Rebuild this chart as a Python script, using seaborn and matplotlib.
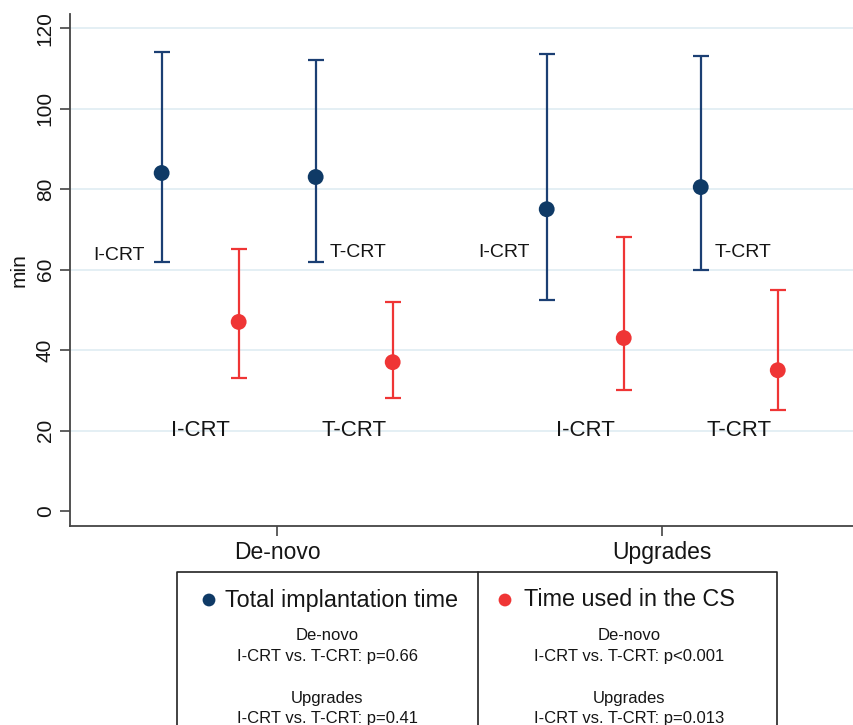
import numpy as np
import pandas as pd
import matplotlib
matplotlib.use("Agg")
import matplotlib.pyplot as plt
import seaborn as sns

# ---------------- data ----------------
groups = ["De-novo", "Upgrades"]
devices = ["I-CRT", "T-CRT", "I-CRT", "T-CRT"]
group_of = ["De-novo", "De-novo", "Upgrades", "Upgrades"]

total_mean = [84, 83, 75, 80.5]
total_lo = [62, 62, 52.5, 60]
total_hi = [114, 112, 113.5, 113]

cs_mean = [47, 37, 43, 35]
cs_lo = [33, 28, 30, 25]
cs_hi = [65, 52, 68, 55]

series_names = ["Total implantation time", "Time used in the CS"]
pvals_total = ["p=0.66", "p=0.41"]
pvals_cs = ["p<0.001", "p=0.013"]

yticks = [0, 20, 40, 60, 80, 100, 120]

BLUE = "#1b3f73"
BLUE_PT = "#0f3a66"
RED = "#ef3535"
TXT = "#151515"

# ---------------- layout helpers ----------------
group_center = {"De-novo": 0.0, "Upgrades": 5.0}
dev_off = {("I-CRT", 0): -1.5, ("I-CRT", 1): -0.5, ("T-CRT", 0): 0.5, ("T-CRT", 1): 1.5}

rows = []
for i in range(4):
    g, d = group_of[i], devices[i]
    rows.append(dict(group=g, device=d, series=series_names[0],
                     x=group_center[g] + dev_off[(d, 0)],
                     mean=total_mean[i], lo=total_lo[i], hi=total_hi[i]))
    rows.append(dict(group=g, device=d, series=series_names[1],
                     x=group_center[g] + dev_off[(d, 1)],
                     mean=cs_mean[i], lo=cs_lo[i], hi=cs_hi[i]))
df = pd.DataFrame(rows)

sns.set_theme(style="white")
plt.rcParams["font.family"] = ["Liberation Sans", "DejaVu Sans"]

fig = plt.figure(figsize=(8.54, 7.25), dpi=100)
ax = fig.add_axes([70 / 854, 1 - 526 / 725, 1 - 70 / 854, (526 - 14) / 725])

pal = {series_names[0]: BLUE_PT, series_names[1]: RED}
line_col = {series_names[0]: BLUE, series_names[1]: RED}

for s in series_names:
    sub = df[df.series == s]
    ax.errorbar(sub["x"], sub["mean"],
                yerr=[sub["mean"] - sub["lo"], sub["hi"] - sub["mean"]],
                fmt="none", ecolor=line_col[s], elinewidth=1.6,
                capsize=6, capthick=1.6, zorder=3)

sns.scatterplot(data=df, x="x", y="mean", hue="series", palette=pal,
                s=130, edgecolor="none", legend=False, ax=ax, zorder=4)

# marker labels
for _, r in df.iterrows():
    gc = group_center[r.group]
    if r.series == series_names[0]:
        if r.device == "I-CRT":
            ax.text(gc - 1.72, 63.5 if r.group == "De-novo" else 64.3, r.device,
                    ha="right", va="center", fontsize=14, color=TXT)
        else:
            ax.text(gc + 0.68, 64.3, r.device, ha="left", va="center",
                    fontsize=14, color=TXT)
    else:
        xo = -1.0 if r.device == "I-CRT" else 1.0
        ax.text(gc + xo, 20, r.device, ha="center", va="center",
                fontsize=16, color=TXT)

ax.set_xlim(-2.69, 7.49)
ax.set_ylim(-3.7, 123.5)
ax.set_yticks(yticks)
ax.set_yticklabels([str(v) for v in yticks], rotation=90, va="center",
                   fontsize=15, color=TXT)
ax.set_xticks([group_center[g] for g in groups])
ax.set_xticklabels(groups, fontsize=16.5, color=TXT)
ax.set_xlabel("")
ax.set_ylabel("min", fontsize=15, labelpad=5, color=TXT)
for v in yticks[1:]:
    ax.axhline(v, color="#e2eef3", lw=1.3, zorder=0)
ax.grid(False)
for sp in ["top", "right"]:
    ax.spines[sp].set_visible(False)
for sp in ["left", "bottom"]:
    ax.spines[sp].set_color("#444444")
    ax.spines[sp].set_linewidth(1.3)
ax.tick_params(axis="both", which="both", direction="out", length=7, width=1.2,
               color="#444444", left=True, bottom=True, pad=4)

# ---------------- legend box ----------------
lax = fig.add_axes([0, 0, 1, 1], facecolor="none")
lax.set_xlim(0, 854)
lax.set_ylim(725, 0)
lax.axis("off")
lax.plot([177, 177, 777, 777], [730, 572, 572, 730], color="#222", lw=1.2)
lax.plot([478, 478], [572, 730], color="#222", lw=1.2)

cols = [(209, 225, 327.5, BLUE_PT, pvals_total),
        (505, 524, 629, RED, pvals_cs)]
for i, (mx, tx, cx, c, pv) in enumerate(cols):
    lax.scatter([mx], [600], s=85, color=c, edgecolor="none")
    lax.text(tx, 600, series_names[i], fontsize=16.8, va="center", ha="left", color=TXT)
    lax.text(cx, 636, groups[0], fontsize=12, ha="center", va="center", color=TXT)
    lax.text(cx, 657, "I-CRT vs. T-CRT: " + pv[0], fontsize=12, ha="center", va="center", color=TXT)
    lax.text(cx, 698, groups[1], fontsize=12, ha="center", va="center", color=TXT)
    lax.text(cx, 718, "I-CRT vs. T-CRT: " + pv[1], fontsize=12, ha="center", va="center", color=TXT)

fig.savefig("out.png", dpi=100)
